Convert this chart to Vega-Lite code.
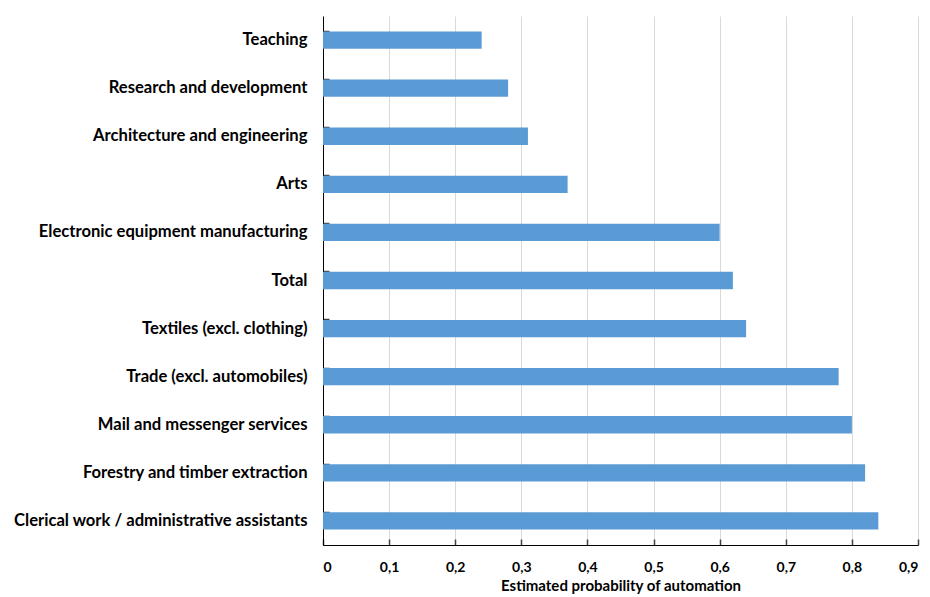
{
  "$schema": "https://vega.github.io/schema/vega-lite/v6.json",
  "autosize": {"type": "none"},
  "padding": {"left": 323, "top": 16, "right": 12, "bottom": 52},
  "width": 595,
  "height": 529,
  "background": "white",
  "data": {"values": [
    {"category": "Teaching", "value": 0.24},
    {"category": "Research and development", "value": 0.28},
    {"category": "Architecture and engineering", "value": 0.31},
    {"category": "Arts", "value": 0.37},
    {"category": "Electronic equipment manufacturing", "value": 0.60},
    {"category": "Total", "value": 0.62},
    {"category": "Textiles (excl. clothing)", "value": 0.64},
    {"category": "Trade (excl. automobiles)", "value": 0.78},
    {"category": "Mail and messenger services", "value": 0.80},
    {"category": "Forestry and timber extraction", "value": 0.82},
    {"category": "Clerical work / administrative assistants", "value": 0.84}
  ]},
  "mark": {"type": "bar", "color": "#5B9BD5"},
  "encoding": {
    "y": {
      "field": "category", "type": "nominal", "sort": null,
      "scale": {"paddingInner": 0.64, "paddingOuter": 0.32},
      "axis": {
        "title": null, "bandPosition": 0, "tickSize": -6, "tickWidth": 1.5, "labelPadding": 22,
        "labelFont": "Lato", "labelFontWeight": "bold", "labelFontSize": 16.6, "labelColor": "#000000",
        "domainColor": "#000000", "tickColor": "#404040", "grid": false, "labelLimit": 330
      }
    },
    "x": {
      "field": "value", "type": "quantitative",
      "scale": {"domain": [0, 0.9], "nice": false},
      "axis": {
        "title": "Estimated probability of automation",
        "values": [0, 0.1, 0.2, 0.3, 0.4, 0.5, 0.6, 0.7, 0.8, 0.9],
        "labelExpr": "datum.value == 0 ? '0' : replace(format(datum.value, '.1f'), '.', ',')",
        "tickSize": -6, "tickWidth": 1.5, "labelPadding": 21,
        "labelFont": "Lato", "labelFontWeight": "bold", "labelFontSize": 14, "labelColor": "#000000",
        "titleFont": "Lato", "titleFontWeight": "bold", "titleFontSize": 15, "titleColor": "#000000", "titlePadding": 4,
        "domainColor": "#000000", "tickColor": "#404040",
        "grid": true, "gridColor": "#d9d9d9"
      }
    }
  },
  "config": {"view": {"stroke": null}}
}
